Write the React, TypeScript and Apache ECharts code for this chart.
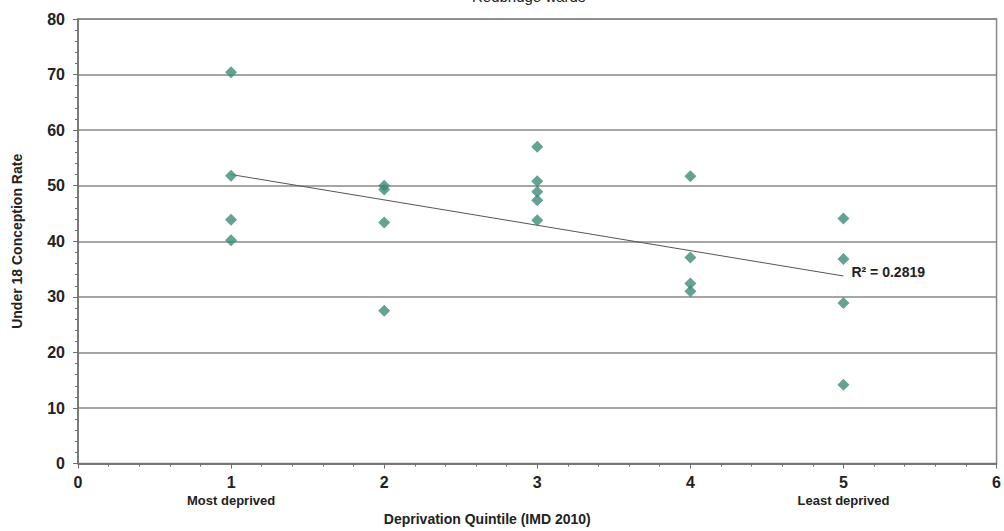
import React, { useEffect, useRef } from "react";
import * as echarts from "echarts";

const chartTitle = "Redbridge wards";
const xAxisTitle = "Deprivation Quintile (IMD 2010)";
const yAxisTitle = "Under 18 Conception Rate";
const quintileNotes = ["", "Most deprived", "", "", "", "Least deprived", ""];
const rSquaredText = "R\u00b2 = 0.2819";

const quintile1 = [70.4, 51.8, 43.9, 40.2];
const quintile2 = [50.0, 49.3, 43.4, 27.5];
const quintile3 = [57.0, 50.8, 48.9, 47.4, 43.8];
const quintile4 = [51.7, 37.1, 32.4, 31.0];
const quintile5 = [44.1, 36.8, 28.9, 14.2];
const quintiles = [1, 2, 3, 4, 5];
const quintileValues = [quintile1, quintile2, quintile3, quintile4, quintile5];

const points: number[][] = [];
quintileValues.forEach((vals, i) => {
  vals.forEach((v) => points.push([quintiles[i], v]));
});

function linearFit(pts: number[][]) {
  const n = pts.length;
  const mx = pts.reduce((s, p) => s + p[0], 0) / n;
  const my = pts.reduce((s, p) => s + p[1], 0) / n;
  let sxy = 0;
  let sxx = 0;
  pts.forEach((p) => {
    sxy += (p[0] - mx) * (p[1] - my);
    sxx += (p[0] - mx) * (p[0] - mx);
  });
  const slope = sxy / sxx;
  return { slope, intercept: my - slope * mx };
}

const fit = linearFit(points);
const xMinData = Math.min(...quintiles);
const xMaxData = Math.max(...quintiles);
const trend = [
  [xMinData, fit.intercept + fit.slope * xMinData],
  [xMaxData, fit.intercept + fit.slope * xMaxData],
];

const FONT = "'Liberation Sans', Arial, sans-serif";

export default function App() {
  const ref = useRef<HTMLDivElement>(null);
  useEffect(() => {
    if (!ref.current) return;
    const chart = echarts.init(ref.current, null, { renderer: "svg" });
    chart.setOption({
      animation: false,
      backgroundColor: "#ffffff",
      textStyle: { fontFamily: FONT },
      graphic: [
        {
          type: "text",
          left: 472,
          top: -11,
          style: {
            text: chartTitle,
            fontFamily: FONT,
            fontSize: 15,
            fill: "#222",
          },
        },
      ],
      grid: {
        left: 78,
        right: 2,
        top: 19,
        bottom: 63,
        show: true,
        borderColor: "#888888",
        borderWidth: 1.5,
      },
      xAxis: {
        type: "value",
        min: 0,
        max: 6,
        interval: 1,
        name: xAxisTitle,
        nameLocation: "middle",
        nameGap: 47,
        nameTextStyle: {
          fontFamily: FONT,
          fontSize: 14,
          fontWeight: "bold",
          color: "#222",
          padding: [0, 100, 0, 0],
        },
        axisLine: { lineStyle: { color: "#6e6e6e", width: 1.5 } },
        axisTick: { show: true, length: 5, inside: false, lineStyle: { color: "#6e6e6e" } },
        minorTick: { show: true, splitNumber: 5, length: 3, lineStyle: { color: "#6e6e6e" } },
        splitLine: { show: false },
        axisLabel: {
          margin: 11,
          formatter: (v: number) => {
            const note = quintileNotes[v];
            return note ? `{n|${v}}\n{s|${note}}` : `{n|${v}}`;
          },
          rich: {
            n: { fontFamily: FONT, fontSize: 16, fontWeight: "bold", color: "#222", lineHeight: 16 },
            s: { fontFamily: FONT, fontSize: 13, fontWeight: "bold", color: "#222", lineHeight: 20 },
          },
        },
      },
      yAxis: {
        type: "value",
        min: 0,
        max: 80,
        interval: 10,
        name: yAxisTitle,
        nameLocation: "middle",
        nameGap: 54,
        nameTextStyle: {
          fontFamily: FONT,
          fontSize: 14,
          fontWeight: "bold",
          color: "#222",
        },
        axisLine: { show: true, lineStyle: { color: "#6e6e6e", width: 1.5 } },
        axisTick: { show: true, length: 5, lineStyle: { color: "#6e6e6e" } },
        minorTick: { show: true, splitNumber: 5, length: 3, lineStyle: { color: "#6e6e6e" } },
        splitLine: { show: true, lineStyle: { color: "#888888", width: 1.5 } },
        axisLabel: {
          margin: 13,
          fontFamily: FONT,
          fontSize: 16,
          fontWeight: "bold",
          color: "#222",
        },
      },
      series: [
        {
          type: "line",
          data: trend,
          symbol: "none",
          lineStyle: { color: "#555555", width: 1 },
          silent: true,
          endLabel: {
            show: true,
            formatter: rSquaredText,
            distance: 8,
            offset: [0, -4],
            fontFamily: FONT,
            fontSize: 14,
            fontWeight: "bold",
            color: "#222",
          },
          z: 2,
        },
        {
          type: "scatter",
          data: points,
          symbol: "diamond",
          symbolSize: 12,
          itemStyle: { color: "#3d8b78" },
          z: 3,
        },
      ],
    });
    const onResize = () => chart.resize();
    window.addEventListener("resize", onResize);
    return () => {
      window.removeEventListener("resize", onResize);
      chart.dispose();
    };
  }, []);
  return (
    <div
      ref={ref}
      style={{ position: "fixed", left: 0, top: 0, width: "100vw", height: "100vh" }}
    />
  );
}
